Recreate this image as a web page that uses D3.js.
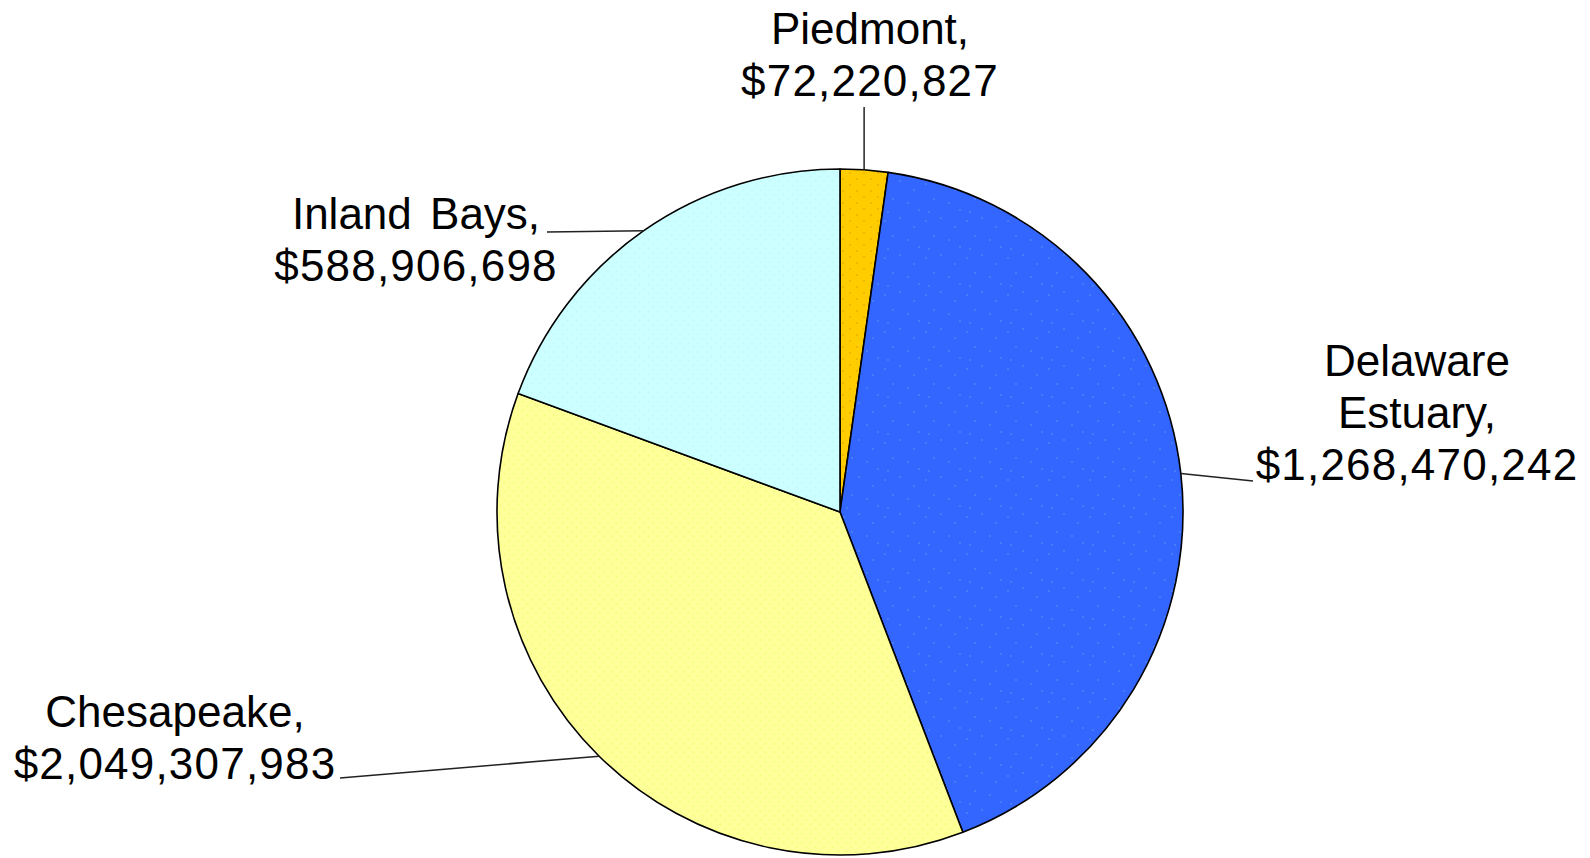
<!DOCTYPE html>
<html>
<head>
<meta charset="utf-8">
<script src="https://cdn.jsdelivr.net/npm/d3@7"></script>
<style>
  html, body { margin: 0; padding: 0; background: #ffffff; }
  svg { display: block; }
  text { font-family: "Liberation Sans", Arial, sans-serif; fill: #000; }
</style>
</head>
<body>
<svg id="chart" width="1590" height="858"></svg>
<script>
// ---- data ----
const categories = ["Piedmont", "Delaware Estuary", "Chesapeake", "Inland Bays"];
const labelLines = [["Piedmont,"], ["Delaware", "Estuary,"], ["Chesapeake,"], ["Inland Bays,"]];
const valueLabels = ["$72,220,827", "$1,268,470,242", "$2,049,307,983", "$588,906,698"];
// slice sizes as drawn in the reference (percent of circle)
const shares = [2.24, 41.93, 36.44, 19.39];
const colors = ["#FFCC00", "#3366FF", "#FFFF99", "#CCFFFF"];

// ---- layout ----
const W = 1590, H = 858;
const cx = 840, cy = 512, R = 343;
const fontSize = 44, lineH = 52;
// label block: center x, baseline of last line, leader end point (null lx = vertical)
const labelLayout = [
  { x: 870, y: 96, lx: null, ly: 107 },
  { x: 1417, y: 480, lx: 1253, ly: 481 },
  { x: 175, y: 779, lx: 340, ly: 778 },
  { x: 416, y: 281, lx: 547, ly: 232 }
];

const svg = d3.select("#chart");
const defs = svg.append("defs");

// subtle dotted textures
function dotPattern(id, size, bg, dot, pts, r) {
  const p = defs.append("pattern").attr("id", id).attr("patternUnits", "userSpaceOnUse")
    .attr("width", size[0]).attr("height", size[1]);
  p.append("rect").attr("width", size[0]).attr("height", size[1]).attr("fill", bg);
  pts.forEach(q => p.append("circle").attr("cx", q[0]).attr("cy", q[1]).attr("r", r).attr("fill", dot));
}
dotPattern("pat0", [14, 12], colors[0], "#E8B000", [[3, 3], [10, 9]], 0.9);
dotPattern("pat1", [41, 37], colors[1], "#4E86F2", [[4, 5], [19, 2], [33, 11], [12, 20], [27, 24], [38, 31], [7, 33]], 0.9);
dotPattern("pat2", [9, 9], colors[2], "#F0FF80", [[2, 2], [6.5, 6.5]], 1.1);
dotPattern("pat3", [9, 9], colors[3], "#BDF6F6", [[2, 2], [6.5, 6.5]], 0.8);

const pie = d3.pie().sort(null).value(d => d).startAngle(0).endAngle(2 * Math.PI);
const arcs = pie(shares);
const arc = d3.arc().innerRadius(0).outerRadius(R);

const g = svg.append("g").attr("transform", `translate(${cx},${cy})`);
g.selectAll("path.slice")
  .data(arcs)
  .join("path")
  .attr("class", "slice")
  .attr("d", arc)
  .attr("fill", (d, i) => `url(#pat${i})`)
  .attr("stroke", "#000")
  .attr("stroke-width", 1.6)
  .attr("stroke-linejoin", "round");

// leader lines from the slice mid-angle on the rim to the label
arcs.forEach((d, i) => {
  const a = (d.startAngle + d.endAngle) / 2;
  const x0 = cx + R * Math.sin(a), y0 = cy - R * Math.cos(a);
  const L = labelLayout[i];
  svg.append("line")
    .attr("x1", x0).attr("y1", y0)
    .attr("x2", L.lx === null ? x0 : L.lx).attr("y2", L.ly)
    .attr("stroke", "#222").attr("stroke-width", 1.5);
});

// labels
categories.forEach((c, i) => {
  const L = labelLayout[i];
  const lines = labelLines[i];
  const n = lines.length + 1;
  const t = svg.append("text")
    .attr("text-anchor", "middle")
    .attr("font-size", fontSize);
  lines.forEach((s, k) => {
    t.append("tspan")
      .attr("x", L.x)
      .attr("y", L.y - (n - 1 - k) * lineH)
      .attr("word-spacing", 6)
      .text(s);
  });
  t.append("tspan")
    .attr("x", L.x)
    .attr("y", L.y)
    .attr("letter-spacing", 1.2)
    .text(valueLabels[i]);
});
</script>
</body>
</html>
